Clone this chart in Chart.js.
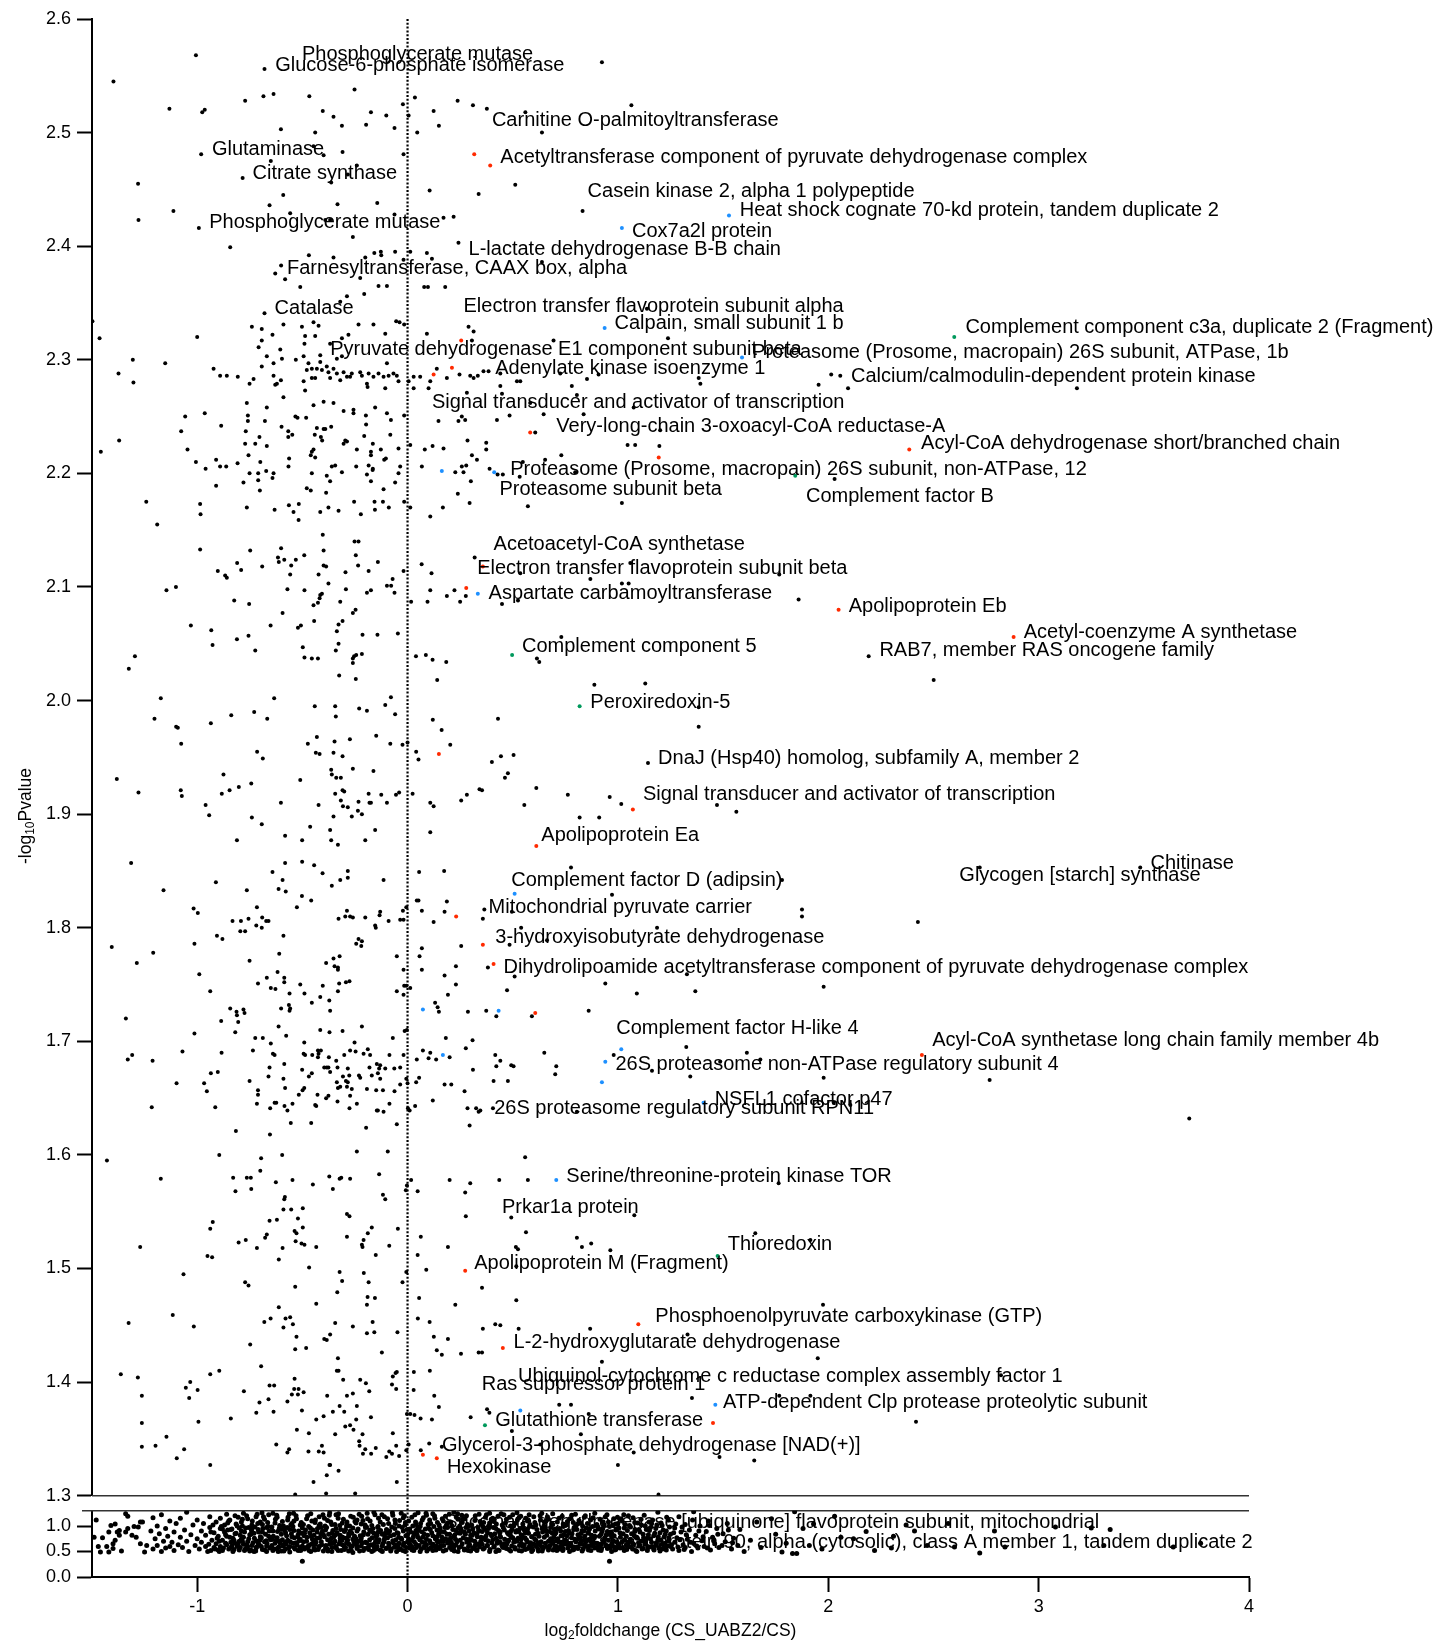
<!DOCTYPE html>
<html>
<head>
<meta charset="utf-8">
<title>Volcano plot CS_UABZ2 / CS</title>
<script src="https://cdn.jsdelivr.net/npm/chart.js@4.4.1/dist/chart.umd.min.js"></script>
<style>
  html, body { margin: 0; padding: 0; background: #fff; }
  #wrap { width: 1440px; height: 1641px; }
</style>
</head>
<body>
<div id="wrap"><canvas id="volcano" width="1440" height="1641"></canvas></div>
<script>
// ---- data: [log2 fold change, -log10 p] ----
// upper panel (1.3 - 2.6), unmarked proteins
const blackUpper = [
  [-1.006,2.568],[-1.398,2.545],[-0.680,2.556],[-0.252,2.538],[-1.132,2.521],[-0.976,2.518],[-0.964,2.520],[-0.772,2.528],[-0.685,2.532],[-0.637,2.534],
  [-0.467,2.532],[-0.403,2.519],[-0.352,2.514],[-0.174,2.518],[-0.101,2.515],[-0.022,2.525],[0.005,2.515],[0.035,2.531],[0.124,2.519],[0.149,2.506],
  [0.238,2.528],[0.311,2.524],[-0.602,2.503],[-0.439,2.500],[-0.312,2.506],[-0.197,2.507],[-0.062,2.504],[0.046,2.500],[-0.981,2.481],[-0.447,2.488],
  [-0.399,2.480],[-0.309,2.483],[-0.019,2.481],[-0.784,2.460],[-0.650,2.475],[-0.363,2.456],[-0.284,2.463],[-0.241,2.471],[0.105,2.449],[0.338,2.446],
  [-1.281,2.455],[-1.113,2.431],[-1.279,2.423],[-0.992,2.416],[-0.591,2.445],[-0.656,2.436],[-0.333,2.437],[-0.144,2.438],[-0.558,2.429],[-0.391,2.423],
  [-0.368,2.423],[-0.062,2.428],[0.171,2.425],[0.219,2.426],[-0.260,2.408],[-0.843,2.399],[0.242,2.403],[-0.469,2.392],[-0.352,2.390],[-0.201,2.390],
  [-0.158,2.394],[-0.127,2.395],[-0.125,2.392],[-0.059,2.395],[0.013,2.395],[0.092,2.394],[0.116,2.389],[-0.019,2.388],[-0.629,2.376],[-0.601,2.383],
  [-0.582,2.371],[-0.510,2.364],[-0.225,2.372],[-0.138,2.365],[-0.098,2.365],[0.079,2.364],[0.097,2.364],[0.179,2.364],[-0.288,2.356],[-0.206,2.358],
  [-0.320,2.351],[-0.680,2.341],[-0.447,2.333],[-0.233,2.331],[-0.162,2.331],[-0.054,2.334],[-0.038,2.333],[-0.016,2.331],[0.092,2.323],[0.290,2.329],
  [0.314,2.325],[-0.740,2.329],[-0.693,2.327],[-0.642,2.322],[-0.590,2.331],[-0.502,2.329],[-0.423,2.330],[-0.487,2.321],[-0.439,2.321],[-0.106,2.323],
  [-0.312,2.319],[-0.281,2.322],[0.306,2.317],[-1.498,2.334],[-1.464,2.319],[-1.000,2.320],[-1.306,2.300],[-1.152,2.297],[-1.374,2.288],[-1.303,2.280],
  [-0.922,2.292],[-0.891,2.286],[-0.859,2.286],[-0.807,2.285],[-0.732,2.283],[-0.751,2.279],[-0.708,2.311],[-0.693,2.317],[-0.669,2.303],[-0.693,2.294],
  [-0.637,2.297],[-0.605,2.309],[-0.597,2.301],[-0.531,2.300],[-0.494,2.303],[-0.490,2.314],[-0.471,2.297],[-0.415,2.298],[-0.415,2.304],[-0.368,2.314],
  [-0.336,2.301],[-0.312,2.303],[-0.479,2.291],[-0.455,2.292],[-0.431,2.292],[-0.407,2.291],[-0.384,2.294],[-0.376,2.289],[-0.352,2.292],[-0.336,2.288],
  [-0.304,2.289],[-0.288,2.285],[-0.265,2.288],[-0.225,2.289],[-0.217,2.286],[-0.185,2.288],[-0.162,2.285],[-0.138,2.288],[-0.114,2.285],[-0.098,2.297],
  [-0.090,2.286],[-0.067,2.288],[-0.051,2.286],[0.029,2.285],[0.060,2.285],[0.139,2.292],[0.187,2.284],[0.247,2.287],[0.298,2.286],[0.314,2.284],
  [0.334,2.286],[-0.637,2.286],[-0.621,2.279],[-0.629,2.278],[-0.602,2.282],[-0.494,2.281],[-0.487,2.273],[-0.455,2.284],[-0.439,2.284],[-0.368,2.284],
  [-0.320,2.282],[-0.273,2.285],[-0.193,2.279],[-0.190,2.276],[-0.106,2.275],[-0.043,2.281],[0.005,2.281],[0.029,2.275],[0.100,2.275],[0.108,2.281],
  [-0.590,2.267],[-0.764,2.262],[-0.669,2.258],[-0.447,2.260],[-0.399,2.263],[-0.352,2.262],[-0.257,2.256],[-0.154,2.258],[0.282,2.271],
  [0.924,2.562],[0.377,2.521],[0.560,2.518],[1.064,2.524],[0.639,2.500],[0.512,2.454],[0.832,2.431],[0.639,2.386],[1.138,2.345],[0.694,2.317],
  [1.238,2.319],[0.361,2.290],[0.385,2.290],[0.441,2.288],[0.520,2.281],[0.536,2.281],[0.726,2.288],[0.853,2.283],[0.908,2.287],[1.384,2.284],
  [1.392,2.279],[0.441,2.277],[0.781,2.277],[2.014,2.287],[2.057,2.286],[1.954,2.278],[2.094,2.275],[0.449,2.270],[0.805,2.269],[0.583,2.262],
  [1.075,2.258],[3.182,2.275],
  [-1.458,2.219],[-1.371,2.229],[-1.057,2.250],[-0.964,2.253],[-1.076,2.237],[-1.046,2.221],[-0.886,2.242],[-0.759,2.251],[-0.759,2.246],[-0.769,2.237],
  [-0.772,2.226],[-0.724,2.226],[-0.704,2.232],[-0.678,2.246],[-0.669,2.224],[-0.756,2.216],[-0.700,2.210],[-0.808,2.209],[-0.910,2.212],[-1.006,2.210],
  [-0.960,2.204],[-0.891,2.206],[-0.862,2.206],[-0.910,2.189],[-0.780,2.192],[-0.751,2.200],[-0.710,2.200],[-0.710,2.194],[-0.672,2.202],[-0.637,2.200],
  [-0.642,2.196],[-0.702,2.185],[-0.764,2.170],[-0.632,2.168],[-0.599,2.241],[-0.567,2.237],[-0.567,2.232],[-0.548,2.234],[-0.563,2.213],[-0.566,2.206],
  [-0.533,2.250],[-0.523,2.249],[-0.482,2.249],[-0.431,2.240],[-0.399,2.239],[-0.391,2.239],[-0.363,2.241],[-0.441,2.234],[-0.412,2.232],[-0.406,2.229],
  [-0.455,2.219],[-0.447,2.221],[-0.439,2.214],[-0.460,2.216],[-0.455,2.200],[-0.479,2.187],[-0.460,2.185],[-0.387,2.183],[-0.384,2.198],[-0.368,2.193],
  [-0.360,2.206],[-0.344,2.207],[-0.312,2.201],[-0.304,2.226],[-0.296,2.229],[-0.288,2.228],[-0.241,2.221],[-0.206,2.233],[-0.197,2.243],[-0.198,2.251],
  [-0.257,2.253],[-0.304,2.255],[-0.165,2.226],[-0.174,2.219],[-0.174,2.216],[-0.127,2.221],[-0.111,2.212],[-0.103,2.213],[-0.185,2.207],[-0.165,2.204],
  [-0.166,2.203],[-0.244,2.206],[-0.193,2.199],[-0.174,2.193],[-0.043,2.222],[-0.035,2.206],[-0.043,2.200],[-0.059,2.192],[-0.082,2.234],[-0.079,2.247],
  [-0.098,2.253],[-0.016,2.251],[-0.114,2.186],[-0.415,2.166],[-0.376,2.170],[-0.328,2.167],[-0.564,2.172],[-0.517,2.173],[-0.542,2.166],[-0.518,2.159],
  [-0.254,2.175],[-0.222,2.164],[-0.157,2.175],[-0.155,2.168],[-0.117,2.175],[-0.089,2.170],[-0.016,2.175],[0.013,2.170],[0.068,2.206],[0.082,2.221],
  [0.119,2.224],[0.171,2.222],[0.108,2.162],[0.168,2.170],[0.147,2.246],[0.242,2.246],[0.285,2.229],[0.306,2.216],[0.330,2.212],[0.258,2.206],
  [0.266,2.201],[0.279,2.207],[0.227,2.201],[0.301,2.193],[0.239,2.182],[0.295,2.174],[0.258,2.250],[0.274,2.247],[0.013,2.225],
  [-1.242,2.175],[-0.986,2.173],[-0.984,2.164],[-1.190,2.155],[-0.986,2.133],[-0.748,2.132],[-0.601,2.134],[-0.616,2.126],[-0.586,2.124],[-0.612,2.122],
  [-0.491,2.128],[-0.531,2.124],[-0.553,2.119],[-0.558,2.111],[-0.403,2.146],[-0.399,2.132],[-0.399,2.119],[-0.387,2.118],[-0.423,2.111],[-0.376,2.103],
  [-0.252,2.140],[-0.233,2.140],[-0.246,2.128],[-0.235,2.119],[-0.295,2.113],[-0.185,2.114],[-0.141,2.122],[-0.019,2.114],[0.067,2.120],[0.114,2.112],
  [0.319,2.126],[-0.902,2.114],[-0.867,2.110],[-0.859,2.108],[-0.810,2.121],[-0.791,2.115],[-0.691,2.118],[-1.146,2.097],[-1.101,2.100],[-0.824,2.088],
  [-0.753,2.085],[-0.571,2.098],[-0.490,2.097],[-0.447,2.084],[-0.415,2.093],[-0.407,2.094],[-0.418,2.090],[-0.426,2.086],[-0.293,2.098],[-0.320,2.087],
  [-0.193,2.095],[-0.174,2.097],[-0.098,2.101],[-0.078,2.101],[-0.062,2.095],[-0.071,2.107],[0.017,2.087],[0.108,2.097],[0.095,2.087],[0.187,2.092],
  [0.223,2.097],[0.250,2.087],[0.277,2.092],
  [-1.030,2.066],[-0.933,2.062],[-0.927,2.049],[-0.756,2.057],[-0.811,2.054],[-0.724,2.044],[-0.651,2.066],[-0.594,2.077],[-0.521,2.064],[-0.507,2.066],
  [-0.498,2.047],[-0.490,2.038],[-0.455,2.037],[-0.426,2.037],[-0.444,2.070],[-0.336,2.061],[-0.328,2.067],[-0.309,2.070],[-0.260,2.077],[-0.247,2.080],
  [-0.214,2.058],[-0.143,2.058],[-0.046,2.059],[-0.341,2.044],[-0.328,2.050],[-0.260,2.037],[-0.260,2.033],[-0.254,2.039],[-0.244,2.040],[-0.217,2.041],
  [-0.325,2.022],[-0.246,2.019],[0.040,2.039],[0.087,2.040],[0.119,2.036],[0.184,2.034],[0.141,2.018],[-1.325,2.028],[-1.296,2.039],
  [-1.173,2.002],[-1.203,1.984],[-1.100,1.977],[-1.092,1.976],[-1.076,1.962],[-0.935,1.980],[-0.838,1.987],[-0.729,1.990],[-0.667,1.984],[-0.634,2.002],
  [-0.441,1.995],[-0.344,1.995],[-0.341,1.986],[-0.230,1.993],[-0.193,1.991],[-0.106,1.996],[-0.079,2.003],[-0.059,1.988],[0.120,1.983],[0.162,1.974],
  [-0.149,1.969],[-0.082,1.962],[-0.024,1.961],[0.000,1.963],[0.041,1.955],[0.052,1.948],[0.203,1.961],[-0.474,1.962],[-0.431,1.968],[-0.436,1.954],
  [-0.418,1.953],[-0.347,1.964],[-0.352,1.954],[-0.309,1.951],[-0.274,1.966],[-0.715,1.955],[-0.688,1.949],[-0.260,1.940],[-0.162,1.938],[-0.363,1.939],
  [-0.360,1.935],[-0.339,1.932],[-0.317,1.932],[-0.510,1.930],[-0.875,1.935],[-1.382,1.931],[-1.279,1.919],[-1.078,1.921],[-1.073,1.916],[-0.883,1.918],
  [-0.846,1.921],[-0.802,1.924],[-0.743,1.927],[-0.960,1.908],[-0.943,1.899],[-0.740,1.897],[-0.602,1.910],[-0.423,1.908],[-0.344,1.918],[-0.309,1.921],
  [-0.301,1.920],[-0.317,1.912],[-0.307,1.907],[-0.284,1.906],[-0.352,1.898],[-0.265,1.898],[-0.236,1.903],[-0.217,1.900],[-0.233,1.911],[-0.185,1.918],
  [-0.181,1.910],[-0.174,1.910],[-0.125,1.917],[-0.098,1.910],[-0.055,1.917],[-0.040,1.919],[0.024,1.918],[0.108,1.910],[0.124,1.907],[0.255,1.912],
  [0.282,1.917],[0.342,1.922],
  [0.425,2.247],[0.485,2.251],[0.647,2.252],[0.837,2.252],[0.607,2.236],[0.374,2.227],[0.374,2.221],[1.046,2.225],[1.082,2.225],[1.197,2.224],
  [1.201,2.238],[0.731,2.216],[0.654,2.212],[0.548,2.210],[0.390,2.204],[0.428,2.199],[0.453,2.199],[0.533,2.197],[0.797,2.201],[2.030,2.195],
  [0.572,2.171],[1.019,2.174],[1.059,2.121],[0.536,2.112],[0.869,2.107],[1.019,2.103],[1.051,2.103],[1.767,2.111],[0.449,2.085],[0.525,2.088],
  [1.859,2.089],[0.731,2.056],[0.615,2.037],[0.626,2.034],[2.192,2.039],[2.501,2.018],[0.888,2.014],[1.130,2.015],[1.384,1.994],[1.384,1.977],
  [0.430,1.984],[0.401,1.946],[0.444,1.951],[0.504,1.952],[0.477,1.936],[0.463,1.932],[1.143,1.945],[0.354,1.921],[0.612,1.923],[0.762,1.917],
  [0.961,1.915],[1.016,1.909],[0.555,1.908],[1.471,1.908],[1.563,1.902],[0.818,1.897],[0.911,1.897],
  [-0.693,1.891],[-0.463,1.889],[-0.368,1.886],[-0.363,1.877],[-0.331,1.873],[-0.154,1.886],[-0.201,1.877],[-0.582,1.881],[-0.501,1.877],[-0.811,1.877],
  [0.108,1.884],[-1.314,1.857],[-1.160,1.833],[-0.911,1.840],[-0.582,1.857],[-0.501,1.858],[-0.444,1.855],[-0.404,1.848],[-0.642,1.849],[-0.594,1.842],
  [-0.613,1.834],[-0.579,1.832],[-0.764,1.833],[-0.360,1.837],[-0.284,1.850],[-0.284,1.844],[-0.320,1.842],[-0.114,1.842],[0.055,1.849],[0.174,1.850],
  [0.044,1.824],[0.052,1.824],[0.187,1.823],[-0.502,1.828],[-0.458,1.824],[-0.526,1.818],[-0.716,1.818],[-1.017,1.817],[-0.997,1.813],[-0.832,1.806],
  [-0.792,1.806],[-0.756,1.808],[-0.719,1.802],[-0.795,1.797],[-0.772,1.797],[-0.691,1.809],[-0.672,1.806],[-0.693,1.800],[-0.661,1.806],[-0.906,1.793],
  [-0.880,1.790],[-1.013,1.786],[-0.590,1.793],[-1.406,1.783],[-1.209,1.778],[-1.287,1.769],[-0.990,1.759],[-0.938,1.744],[-0.751,1.771],[-0.610,1.777],
  [-0.711,1.751],[-0.669,1.756],[-0.650,1.747],[-0.628,1.746],[-0.618,1.761],[-0.586,1.756],[-0.586,1.752],[-0.510,1.750],[-0.490,1.742],[-0.403,1.749],
  [-0.415,1.739],[-0.455,1.734],[-0.561,1.742],[-0.564,1.732],[-0.601,1.729],[-0.558,1.729],[-0.561,1.727],[-0.387,1.769],[-0.352,1.773],[-0.323,1.775],
  [-0.347,1.766],[-0.331,1.765],[-0.331,1.763],[-0.325,1.751],[-0.293,1.752],[-0.276,1.753],[-0.331,1.744],[-0.372,1.736],[-0.368,1.727],[-0.217,1.788],
  [-0.244,1.786],[-0.233,1.790],[-0.220,1.784],[-0.201,1.809],[-0.296,1.810],[-0.260,1.809],[-0.288,1.815],[-0.273,1.810],[-0.328,1.808],[-0.154,1.802],
  [-0.151,1.800],[-0.133,1.811],[-0.130,1.814],[-0.090,1.806],[-0.035,1.807],[-0.019,1.807],[-0.022,1.815],[-0.006,1.818],[-0.051,1.775],[0.057,1.775],
  [0.068,1.782],[0.068,1.815],[0.124,1.805],[0.176,1.814],[0.068,1.763],[-0.019,1.763],[-0.016,1.749],[-0.006,1.749],[0.013,1.747],[-0.051,1.744],
  [-0.019,1.741],[0.176,1.758],[0.230,1.766],[0.230,1.750],[0.255,1.784],[0.192,1.741],[0.131,1.734],[0.143,1.730],[0.149,1.726],[0.287,1.726],
  [-0.843,1.729],[-0.813,1.726],[-0.811,1.723],[-0.805,1.717],[-0.780,1.728],[-0.775,1.725],[-0.886,1.718],[-0.819,1.708],[-1.013,1.707],[-1.339,1.720],
  [-1.330,1.684],[-1.309,1.688],[-1.212,1.683],[-1.216,1.642],[-1.070,1.691],[-1.098,1.663],[-0.967,1.663],[-0.954,1.656],[-0.935,1.672],[-0.902,1.673],
  [-0.884,1.690],[-0.914,1.642],[-0.816,1.621],[-1.429,1.595],[-1.173,1.579],[-0.895,1.600],[-0.829,1.580],[-0.818,1.568],[-0.764,1.580],[-0.745,1.580],
  [-0.743,1.570],[-0.696,1.597],[-0.700,1.586],
  [-0.724,1.703],[-0.688,1.703],[-0.650,1.698],[-0.613,1.713],[-0.577,1.705],[-0.735,1.692],[-0.640,1.689],[-0.632,1.688],[-0.586,1.680],[-0.656,1.677],
  [-0.661,1.669],[-0.751,1.665],[-0.711,1.657],[-0.711,1.653],[-0.716,1.645],[-0.653,1.641],[-0.654,1.618],[-0.632,1.646],[-0.624,1.646],[-0.590,1.667],
  [-0.582,1.659],[-0.585,1.643],[-0.571,1.639],[-0.547,1.645],[-0.555,1.628],[-0.517,1.653],[-0.499,1.657],[-0.491,1.659],[-0.501,1.675],[-0.491,1.699],
  [-0.494,1.689],[-0.487,1.688],[-0.453,1.688],[-0.426,1.692],[-0.423,1.689],[-0.412,1.692],[-0.469,1.669],[-0.455,1.672],[-0.426,1.686],[-0.415,1.710],
  [-0.371,1.708],[-0.309,1.709],[-0.217,1.713],[-0.374,1.686],[-0.376,1.677],[-0.368,1.673],[-0.339,1.683],[-0.333,1.677],[-0.396,1.677],[-0.384,1.677],
  [-0.301,1.688],[-0.284,1.676],[-0.277,1.670],[-0.307,1.669],[-0.293,1.665],[-0.320,1.660],[-0.273,1.692],[-0.252,1.699],[-0.247,1.691],[-0.231,1.670],
  [-0.225,1.668],[-0.209,1.689],[-0.189,1.693],[-0.178,1.688],[-0.170,1.670],[-0.181,1.677],[-0.146,1.680],[-0.135,1.676],[-0.130,1.679],[-0.141,1.672],
  [-0.130,1.667],[-0.106,1.676],[-0.086,1.688],[-0.063,1.676],[-0.070,1.703],[-0.035,1.677],[-0.019,1.688],[-0.014,1.709],[-0.003,1.710],[-0.006,1.667],
  [0.000,1.663],[-0.336,1.664],[-0.331,1.659],[-0.288,1.660],[-0.265,1.658],[-0.284,1.664],[-0.273,1.652],[-0.276,1.641],[-0.241,1.645],[-0.333,1.647],
  [-0.387,1.650],[-0.376,1.652],[-0.439,1.644],[-0.434,1.643],[-0.428,1.653],[-0.193,1.658],[-0.197,1.624],[-0.149,1.657],[-0.117,1.657],[-0.146,1.639],
  [-0.141,1.639],[-0.114,1.638],[-0.086,1.645],[-0.062,1.656],[-0.035,1.662],[-0.051,1.627],[0.002,1.641],[0.010,1.639],[0.036,1.643],[0.041,1.664],
  [0.055,1.668],[0.044,1.684],[0.073,1.692],[0.100,1.685],[0.108,1.690],[0.136,1.684],[0.120,1.648],[0.182,1.703],[0.200,1.686],[0.176,1.662],
  [0.208,1.662],[0.277,1.694],[0.309,1.701],[0.311,1.675],[0.271,1.656],[0.285,1.641],[0.295,1.626],[0.326,1.641],[0.338,1.638],[-0.458,1.628],
  [-0.241,1.603],[-0.094,1.603],[-0.596,1.600],[-0.626,1.576],[-0.547,1.578],[-0.621,1.543],[-0.586,1.561],[-0.583,1.563],[-0.590,1.552],[-0.553,1.552],
  [-0.498,1.553],[-0.521,1.544],[-0.450,1.574],[-0.372,1.581],[-0.355,1.570],[-0.323,1.579],[-0.315,1.580],[-0.273,1.579],[-0.288,1.548],[-0.276,1.546],
  [-0.135,1.583],[-0.117,1.565],[-0.106,1.561],[0.017,1.578],[-0.003,1.573],[-0.008,1.569],[0.048,1.568],[0.200,1.578],[0.298,1.575],[0.274,1.567],
  [0.277,1.546],[-0.656,1.542],[-0.926,1.541],[-0.938,1.535],[-0.170,1.536],[-0.046,1.535],[-0.498,1.536],
  [0.777,1.853],[1.780,1.842],[0.972,1.829],[0.365,1.816],[0.358,1.808],[0.496,1.814],[1.875,1.816],[1.875,1.810],[2.426,1.805],[0.540,1.800],
  [0.485,1.785],[0.663,1.789],[1.186,1.800],[0.382,1.765],[0.509,1.757],[0.473,1.745],[0.940,1.751],[1.090,1.742],[1.368,1.744],[1.328,1.759],
  [1.978,1.748],[0.374,1.727],[0.422,1.722],[0.591,1.722],[0.861,1.727],[1.325,1.695],[0.417,1.688],[0.441,1.683],[0.422,1.678],[0.493,1.679],
  [0.504,1.678],[0.650,1.690],[0.707,1.678],[0.702,1.671],[0.980,1.688],[1.162,1.674],[1.344,1.669],[1.486,1.682],[1.613,1.690],[1.677,1.684],
  [1.978,1.668],[0.409,1.665],[0.477,1.665],[0.346,1.639],[0.406,1.641],[0.805,1.638],[2.026,1.646],[2.105,1.644],[0.559,1.598],[0.436,1.578],
  [0.572,1.578],[1.764,1.575],[0.493,1.545],[1.078,1.547],[3.483,1.853],[2.720,1.853],[2.767,1.666],[3.716,1.632],
  [-1.271,1.519],[-0.803,1.523],[-0.769,1.525],[-0.716,1.518],[-0.677,1.527],[-0.669,1.530],[-0.951,1.511],[-0.929,1.510],[-0.594,1.518],[-0.612,1.508],
  [-0.537,1.533],[-0.528,1.531],[-0.532,1.524],[-0.504,1.522],[-0.490,1.521],[-0.434,1.519],[-0.288,1.528],[-0.189,1.531],[-0.209,1.525],[-0.217,1.521],
  [-0.214,1.519],[-0.151,1.512],[-0.087,1.520],[0.063,1.528],[0.192,1.519],[-1.065,1.495],[-1.116,1.459],[-1.016,1.449],[-1.326,1.452],[-0.772,1.488],
  [-0.756,1.485],[-0.612,1.466],[-0.651,1.456],[-0.681,1.453],[-0.534,1.484],[-0.468,1.501],[-0.434,1.469],[-0.323,1.497],[-0.311,1.489],[-0.334,1.479],
  [-0.208,1.496],[-0.185,1.488],[-0.190,1.475],[-0.155,1.474],[-0.193,1.468],[-0.024,1.488],[-0.006,1.497],[0.048,1.512],[0.089,1.499],[0.055,1.474],
  [0.049,1.456],[0.105,1.453],[0.227,1.468],[0.125,1.440],[0.139,1.428],[0.163,1.424],[0.192,1.438],[0.254,1.425],[0.338,1.426],[-0.580,1.456],
  [-0.590,1.448],[-0.545,1.451],[-0.558,1.457],[-0.528,1.440],[-0.534,1.429],[-0.482,1.430],[-0.344,1.452],[-0.260,1.449],[-0.166,1.453],[-0.158,1.444],
  [-0.193,1.443],[-0.048,1.444],[-0.396,1.438],[-0.384,1.437],[-0.368,1.442],[-0.748,1.433],[-0.696,1.414],[-0.122,1.426],[-0.331,1.421],[-0.336,1.410],
  [-0.328,1.410],[-0.306,1.402],[-0.225,1.402],[-0.198,1.399],[-0.182,1.392],[-0.174,1.369],[-0.070,1.405],[-0.057,1.408],[-0.051,1.409],[-0.074,1.398],
  [-0.054,1.394],[0.030,1.409],[0.029,1.393],[0.106,1.410],[0.127,1.388],[0.149,1.378],[0.062,1.368],[0.116,1.367],[-0.003,1.372],[0.013,1.372],
  [0.033,1.371],[0.300,1.369],[-1.363,1.407],[-1.282,1.404],[-1.263,1.388],[-1.263,1.364],[-1.263,1.343],[-1.198,1.344],[-1.146,1.352],[-1.097,1.333],
  [-1.062,1.341],[-1.054,1.395],[-1.033,1.400],[-1.038,1.386],[-0.998,1.393],[-0.994,1.365],[-0.938,1.407],[-0.895,1.410],[-0.938,1.327],[-0.840,1.368],
  [-0.778,1.392],[-0.719,1.373],[-0.704,1.382],[-0.656,1.397],[-0.634,1.397],[-0.661,1.385],[-0.637,1.374],[-0.624,1.345],[-0.571,1.338],[-0.563,1.341],
  [-0.571,1.383],[-0.550,1.389],[-0.539,1.394],[-0.537,1.403],[-0.518,1.394],[-0.521,1.389],[-0.494,1.391],[-0.502,1.375],[-0.526,1.358],[-0.469,1.355],
  [-0.471,1.339],[-0.434,1.367],[-0.422,1.339],[-0.407,1.344],[-0.399,1.370],[-0.399,1.338],[-0.382,1.388],[-0.368,1.327],[-0.355,1.374],[-0.344,1.354],
  [-0.323,1.379],[-0.301,1.374],[-0.288,1.388],[-0.260,1.390],[-0.296,1.361],[-0.273,1.362],[-0.257,1.358],[-0.241,1.379],[-0.244,1.367],[-0.230,1.348],
  [-0.228,1.344],[-0.214,1.354],[-0.212,1.337],[-0.201,1.341],[-0.173,1.337],[-0.151,1.342],[-0.101,1.334],[-0.087,1.339],[-0.074,1.337],[-0.070,1.355],
  [-0.054,1.344],[-0.040,1.335],[-0.006,1.340],[0.005,1.345],[0.063,1.340],[0.103,1.346],[-0.447,1.312],[-0.384,1.318],[-0.371,1.327],[-0.328,1.322],
  [-0.051,1.312],[-0.534,1.301],[-0.387,1.302],[-0.249,1.302],[0.163,1.343],
  [0.563,1.532],[0.805,1.527],[0.829,1.519],[0.873,1.522],[0.964,1.516],[0.515,1.519],[0.525,1.517],[1.653,1.531],[1.915,1.525],[0.517,1.502],
  [0.354,1.483],[0.517,1.472],[1.975,1.468],[0.358,1.447],[0.417,1.451],[0.441,1.450],[0.528,1.447],[0.868,1.447],[1.331,1.442],[0.354,1.426],
  [0.924,1.418],[1.950,1.421],[1.352,1.386],[1.767,1.388],[1.915,1.388],[0.378,1.376],[0.389,1.373],[0.721,1.380],[0.777,1.380],[0.861,1.372],
  [2.417,1.365],[0.496,1.357],[0.824,1.354],[0.631,1.345],[1.075,1.338],[1.483,1.334],[1.648,1.331],[1.000,1.327],[1.193,1.301],[2.821,1.406]
];

// highlighted proteins (upper panel)
const redPts = [
  [0.317,2.481],[0.393,2.471],[0.255,2.317],[0.124,2.287],[0.211,2.293],[0.583,2.236],[1.194,2.214],[2.385,2.221],[0.358,2.118],[0.279,2.099],
  [2.049,2.080],[2.881,2.056],[0.149,1.953],[1.071,1.904],[0.612,1.872],[0.231,1.810],[0.358,1.785],[0.409,1.768],[0.607,1.725],[2.445,1.688],
  [0.274,1.498],[1.097,1.451],[0.453,1.430],[1.452,1.364],[0.073,1.336],[0.139,1.333]
];
const bluePts = [
  [1.528,2.427],[1.019,2.416],[0.937,2.328],[1.590,2.302],[0.163,2.202],[0.412,2.201],[0.334,2.094],[0.509,1.830],[0.073,1.728],[0.168,1.688],
  [0.433,1.727],[1.016,1.693],[0.940,1.682],[0.924,1.664],[1.407,1.646],[0.707,1.578],[1.463,1.380],[0.536,1.375]
];
const greenPts = [
  [2.599,2.320],[1.843,2.198],[0.497,2.040],[0.818,1.995],[1.474,1.511],[0.368,1.362]
];

// lower panel (0 - 1.3): wings and sparse tails
const blackLower = [
  [-1.49,0.78],[-1.48,1.12],[-1.47,0.60],[-1.46,0.49],[-1.45,0.77],[-1.43,0.60],[-1.42,0.88],[-1.42,0.49],[-1.41,1.01],[-1.40,0.65],
  [-1.40,0.56],[-1.39,0.72],[-1.39,1.04],[-1.38,0.88],[-1.37,0.82],[-1.37,0.91],[-1.36,0.51],[-1.34,1.24],[-1.33,1.19],[-1.34,0.88],
  [-1.33,0.95],[-1.31,0.82],[-1.30,0.99],[-1.29,0.78],[-1.28,0.98],[-1.27,1.08],[-1.26,1.08],[-1.27,0.65],[-1.25,0.49],[-1.24,0.62],
  [-1.22,0.90],[-1.21,1.16],[-1.21,0.55],[-1.20,0.75],
  [-1.19,1.00],[-1.19,0.62],[-1.18,0.85],[-1.17,0.50],[-1.17,1.22],[-1.16,0.70],[-1.15,0.95],[-1.15,0.57],[-1.14,0.80],[-1.13,1.10],
  [-1.13,0.60],[-1.12,0.68],[-1.11,0.88],[-1.11,0.52],[-1.10,1.05],[-1.09,0.63],[-1.08,0.78],[-1.08,1.15],[-1.07,0.58],[-1.06,0.92],
  [-1.05,0.70],[-1.05,1.27],[-1.04,0.50],[-1.03,0.83],[-1.02,1.02],[-1.01,0.62],[-1.00,0.75],[-1.00,1.12],[-0.99,0.55],[-0.98,0.90],
  [-0.98,0.68],[-0.97,1.05],[-0.96,0.60],[-0.96,0.82],[-0.95,0.50],[-0.94,0.97],[-0.94,1.18],[-0.93,0.72],[-0.92,0.58],[-0.92,0.87],
  [-0.91,1.08],[-0.91,0.65],[-0.90,0.53],[-0.90,0.80],[-0.89,0.95],
  [-0.89,0.60],[-0.89,1.15],[-0.88,0.72],[-0.88,0.52],[-0.87,0.88],[-0.87,1.02],[-0.86,0.63],[-0.86,0.80],[-0.85,0.55],[-0.85,1.10],
  [-0.84,0.93],[-0.84,0.68],[-0.83,0.50],[-0.83,0.76],[-0.82,1.20],[-0.82,0.85],[-0.81,0.60],[-0.81,1.00],[-0.80,0.70],[-0.80,0.53],
  [-0.79,0.90],[-0.79,1.08],[-0.78,0.64],[-0.78,0.78],[-0.77,0.56],[-0.77,0.96],[-0.76,1.14],[-0.76,0.69],[-0.75,0.83],[-0.75,0.51],
  [-0.86,1.23],[-0.84,0.58],[-0.80,0.96],[-0.78,1.25],[-0.82,0.66],[-0.88,0.94],[-0.76,0.60],[-0.79,0.74],
  [-0.945,0.64],[-0.935,0.88],[-0.925,1.02],[-0.915,0.55],[-0.905,0.76],[-0.935,0.52],
  [-0.895,0.70],[-0.885,0.99],[-0.875,0.57],[-0.865,0.83],[-0.855,1.06],[-0.895,0.50],[-0.865,0.66],[-0.855,0.92],
  [-0.845,0.78],[-0.845,1.12],[-0.835,0.61],[-0.835,0.94],[-0.825,0.54],[-0.825,0.72],[-0.815,1.04],[-0.815,0.86],[-0.805,0.65],[-0.805,1.17],
  [-0.795,0.58],[-0.795,0.82],[-0.785,1.00],[-0.785,0.70],[-0.775,0.52],[-0.775,0.88],[-0.765,1.20],[-0.765,0.63],[-0.755,0.75],[-0.755,0.97],
  [-0.785,1.13],[-0.765,0.55],
  [1.26,0.55],[1.27,0.96],[1.27,0.68],[1.28,0.77],[1.29,1.18],[1.29,0.52],[1.30,0.88],[1.31,0.63],[1.32,1.03],[1.32,0.58],
  [1.33,0.74],[1.34,0.92],[1.35,0.50],[1.36,1.28],[1.36,0.66],[1.37,0.82],[1.38,0.57],[1.39,1.00],[1.40,0.71],[1.41,0.60],
  [1.42,0.89],[1.43,1.10],[1.44,0.53],[1.45,0.78],[1.46,0.65],[1.47,0.95],[1.48,0.58],[1.50,0.85],[1.51,0.69],[1.52,1.05],
  [1.54,0.55],[1.55,0.76],[1.57,0.62],[1.58,0.93],[1.60,0.50],
  [1.255,0.63],[1.265,0.87],[1.275,1.04],[1.285,0.59],[1.295,0.73],[1.305,0.98],[1.315,0.54],[1.325,0.83],[1.345,0.68],[1.355,1.12],
  [1.375,0.61],[1.385,0.90],[1.405,0.79],[1.425,0.57],[1.435,1.01],[1.455,0.71],[1.475,0.84],[1.495,0.62],[1.525,0.92],[1.545,0.67],
  [1.63,0.72],[1.66,1.08],[1.68,0.58],[1.73,1.14],[1.75,0.84],[1.78,0.49],[1.80,0.66],[1.83,0.46],[1.84,1.28],[1.85,0.46],
  [1.88,0.95],[1.91,0.62],[1.93,1.04],[1.97,0.55],[2.03,1.19],[2.06,0.78],[2.12,0.75],[2.18,0.89],[2.22,0.52],[2.30,0.57],
  [2.31,0.80],[2.37,1.02],[2.41,0.90],[2.47,0.62],[2.57,1.05],[2.60,0.59],
  [2.72,0.47],[2.79,0.90],[2.84,0.59],[3.08,0.98],[3.25,0.96],[3.31,0.62],[3.34,0.93],[3.64,0.59],[3.77,0.66]
];

// lower panel: the dense core between about -0.75 and 1.25
const blackLowerCore = [
  [-0.74,0.62],[-0.74,1.02],[-0.73,0.50],[-0.73,0.86],[-0.72,0.71],[-0.72,1.18],[-0.72,0.57],[-0.71,0.93],[-0.71,0.66],[-0.70,1.08],[-0.70,0.79],[-0.74,0.95],
  [-0.69,0.54],[-0.69,0.88],[-0.68,0.69],[-0.68,1.13],[-0.67,0.61],[-0.67,0.97],[-0.67,0.50],[-0.66,0.80],[-0.66,1.22],[-0.65,0.73],[-0.65,0.58],[-0.69,1.03],
  [-0.64,0.90],[-0.64,0.52],[-0.63,1.06],[-0.63,0.66],[-0.62,0.77],[-0.62,1.17],[-0.62,0.56],[-0.61,0.95],[-0.61,0.70],[-0.60,0.84],[-0.60,0.51],[-0.64,1.25],
  [-0.59,0.63],[-0.59,1.00],[-0.58,0.55],[-0.58,0.87],[-0.57,1.12],[-0.57,0.72],[-0.56,0.60],[-0.56,0.93],[-0.56,0.49],[-0.55,0.79],[-0.55,1.05],[-0.58,0.68],
  [-0.54,0.58],[-0.54,0.91],[-0.53,1.20],[-0.53,0.67],[-0.52,0.52],[-0.52,0.83],[-0.51,1.02],[-0.51,0.74],[-0.50,0.61],[-0.50,0.31],[-0.50,0.96],[-0.54,1.10],
  [-0.49,0.55],[-0.49,0.86],[-0.48,1.14],[-0.48,0.70],[-0.47,0.62],[-0.47,0.99],[-0.46,0.50],[-0.46,0.80],[-0.46,1.24],[-0.45,0.66],[-0.45,0.92],[-0.48,0.58],
  [-0.44,1.07],[-0.44,0.53],[-0.43,0.76],[-0.43,0.88],[-0.42,0.60],[-0.42,1.18],[-0.41,0.69],[-0.41,0.97],[-0.40,0.51],[-0.40,0.83],[-0.44,0.64],[-0.42,1.01],
  [-0.39,0.57],[-0.39,0.92],[-0.38,1.11],[-0.38,0.73],[-0.37,0.64],[-0.37,1.26],[-0.36,0.50],[-0.36,0.86],[-0.36,1.03],[-0.35,0.68],[-0.35,0.79],[-0.38,0.55],
  [-0.34,0.95],[-0.34,0.60],[-0.33,1.15],[-0.33,0.52],[-0.32,0.82],[-0.32,0.71],[-0.31,1.06],[-0.31,0.63],[-0.30,0.89],[-0.30,0.54],[-0.34,1.22],[-0.32,0.76],
  [-0.29,0.67],[-0.29,1.00],[-0.28,0.51],[-0.28,0.85],[-0.27,1.19],[-0.27,0.59],[-0.26,0.74],[-0.26,0.96],[-0.26,0.48],[-0.25,1.09],[-0.25,0.65],[-0.28,0.80],
  [-0.24,0.56],[-0.24,0.90],[-0.23,1.23],[-0.23,0.70],[-0.22,0.61],[-0.22,1.04],[-0.21,0.52],[-0.21,0.83],[-0.20,0.97],[-0.20,0.68],[-0.24,1.12],[-0.22,0.77],
  [-0.19,0.58],[-0.19,1.14],[-0.18,0.73],[-0.18,0.92],[-0.17,0.50],[-0.17,1.01],[-0.16,0.64],[-0.16,0.86],[-0.16,1.27],[-0.15,0.55],[-0.15,0.79],[-0.18,0.62],
  [-0.14,0.99],[-0.14,0.68],[-0.13,0.53],[-0.13,1.08],[-0.12,0.84],[-0.12,0.61],[-0.11,1.18],[-0.11,0.74],[-0.10,0.57],[-0.10,0.93],[-0.14,0.88],[-0.12,0.50],
  [-0.09,0.66],[-0.09,1.05],[-0.08,0.51],[-0.08,0.81],[-0.07,1.21],[-0.07,0.71],[-0.06,0.59],[-0.06,0.95],[-0.06,1.12],[-0.05,0.63],[-0.05,0.87],[-0.08,0.55],
  [-0.04,1.00],[-0.04,0.54],[-0.03,0.76],[-0.03,1.25],[-0.02,0.62],[-0.02,0.90],[-0.01,0.50],[-0.01,1.07],[0.00,0.69],[0.00,0.83],[-0.04,0.66],[-0.02,1.16],
  [0.01,0.57],[0.01,0.94],[0.02,1.17],[0.02,0.72],[0.03,0.52],[0.03,0.86],[0.04,1.03],[0.04,0.64],[0.05,0.78],[0.05,1.26],[0.02,0.60],[0.04,0.91],
  [0.06,0.50],[0.06,0.99],[0.07,0.68],[0.07,1.12],[0.08,0.58],[0.08,0.84],[0.09,1.21],[0.09,0.74],[0.10,0.55],[0.10,0.96],[0.07,0.88],[0.09,0.63],
  [0.11,1.05],[0.11,0.66],[0.12,0.52],[0.12,0.81],[0.13,1.15],[0.13,0.60],[0.14,0.92],[0.14,0.71],[0.15,1.02],[0.15,0.56],[0.12,1.24],[0.14,0.79],
  [0.16,0.62],[0.16,0.89],[0.17,1.10],[0.17,0.51],[0.18,0.75],[0.18,1.19],[0.19,0.67],[0.19,0.97],[0.20,0.58],[0.20,0.84],[0.17,0.70],[0.19,1.06],
  [0.21,0.54],[0.21,1.01],[0.22,0.80],[0.22,1.27],[0.23,0.63],[0.23,0.91],[0.24,0.50],[0.24,1.13],[0.25,0.72],[0.25,0.86],[0.22,0.59],[0.24,0.96],
  [0.26,0.65],[0.26,1.07],[0.27,0.53],[0.27,0.88],[0.28,1.20],[0.28,0.74],[0.29,0.60],[0.29,0.99],[0.30,0.82],[0.30,0.51],[0.27,1.14],[0.29,0.69],
  [0.31,0.94],[0.31,0.57],[0.32,1.11],[0.32,0.70],[0.33,0.52],[0.33,0.85],[0.34,1.23],[0.34,0.64],[0.35,0.78],[0.35,1.03],[0.32,0.61],[0.34,0.90],
  [0.36,0.55],[0.36,0.98],[0.37,0.73],[0.37,1.17],[0.38,0.62],[0.38,0.87],[0.39,1.06],[0.39,0.50],[0.40,0.81],[0.40,0.67],[0.37,0.93],[0.39,1.25],
  [0.41,0.59],[0.41,1.09],[0.42,0.76],[0.42,0.95],[0.43,0.53],[0.43,1.19],[0.44,0.68],[0.44,0.88],[0.45,1.02],[0.45,0.61],[0.42,0.50],[0.44,0.80],
  [0.46,0.92],[0.46,0.65],[0.47,1.13],[0.47,0.56],[0.48,0.84],[0.48,0.72],[0.49,1.00],[0.49,0.51],[0.50,1.22],[0.50,0.77],[0.47,0.63],[0.49,0.89],
  [0.51,0.58],[0.51,1.05],[0.52,0.70],[0.52,0.91],[0.53,0.52],[0.53,1.16],[0.54,0.66],[0.54,0.83],[0.55,0.97],[0.55,0.60],[0.52,1.26],[0.54,0.74],
  [0.56,0.54],[0.56,0.87],[0.57,1.10],[0.57,0.69],[0.58,0.61],[0.58,0.99],[0.59,0.50],[0.59,0.79],[0.60,1.18],[0.60,0.64],[0.57,0.93],[0.59,0.57],
  [0.61,1.02],[0.61,0.72],[0.62,0.55],[0.62,0.86],[0.63,1.20],[0.63,0.63],[0.64,0.95],[0.64,0.51],[0.65,0.78],[0.65,1.08],[0.62,0.67],[0.64,0.59],
  [0.66,0.60],[0.66,0.90],[0.67,1.13],[0.67,0.53],[0.68,0.75],[0.68,0.97],[0.69,0.66],[0.69,1.24],[0.70,0.57],[0.70,0.84],[0.67,0.70],[0.69,1.03],
  [0.71,0.52],[0.71,0.94],[0.72,0.68],[0.72,1.15],[0.73,0.61],[0.73,0.81],[0.74,1.04],[0.74,0.55],[0.75,0.73],[0.75,0.89],[0.72,0.58],[0.74,0.99],
  [0.76,0.65],[0.76,1.09],[0.77,0.50],[0.77,0.86],[0.78,0.77],[0.78,1.21],[0.79,0.59],[0.79,0.93],[0.80,0.69],[0.80,1.00],[0.77,0.62],[0.79,0.54],
  [0.81,0.83],[0.81,0.56],[0.82,1.06],[0.82,0.66],[0.83,0.51],[0.83,0.91],[0.84,1.17],[0.84,0.72],[0.85,0.60],[0.85,0.96],[0.82,0.78],[0.84,0.63],
  [0.86,0.53],[0.86,0.88],[0.87,1.12],[0.87,0.70],[0.88,0.62],[0.88,0.99],[0.89,0.57],[0.89,0.80],[0.90,1.03],[0.90,0.66],[0.87,0.75],[0.89,1.25],
  [0.91,0.60],[0.91,0.94],[0.92,0.52],[0.92,0.84],[0.93,1.08],[0.93,0.68],[0.94,0.74],[0.94,1.18],[0.95,0.56],[0.95,0.89],[0.92,0.64],[0.96,0.31],
  [0.96,0.99],[0.96,0.61],[0.97,0.50],[0.97,0.79],[0.98,1.14],[0.98,0.70],[0.99,0.58],[0.99,0.92],[1.00,1.05],[1.00,0.65],[0.97,0.86],[0.99,0.54],
  [1.01,0.57],[1.01,0.87],[1.02,1.10],[1.02,0.69],[1.03,0.52],[1.03,0.96],[1.04,0.63],[1.04,0.80],[1.05,1.20],[1.05,0.60],
  [1.06,0.74],[1.06,0.98],[1.07,0.55],[1.07,0.66],[1.08,0.89],[1.08,1.07],[1.09,0.50],[1.09,0.78],[1.10,0.61],[1.10,0.93],
  [1.11,1.13],[1.11,0.70],[1.12,0.56],[1.12,0.84],[1.13,0.64],[1.13,1.00],[1.14,0.52],[1.14,0.76],[1.15,0.91],[1.15,0.59],
  [1.16,0.68],[1.16,1.05],[1.17,0.55],[1.17,0.81],[1.18,0.62],[1.18,0.95],[1.19,1.27],[1.19,0.73],[1.20,0.51],[1.20,0.87],
  [1.21,0.64],[1.21,1.01],[1.22,0.58],[1.22,0.79],[1.23,0.90],[1.23,0.53],[1.24,1.12],[1.24,0.70],[1.25,0.60],[1.25,0.84],
  [-0.745,0.53],[-0.745,0.84],[-0.738,1.10],[-0.735,0.67],[-0.728,0.76],[-0.725,0.98],[-0.718,0.59],[-0.715,1.23],[-0.708,0.88],[-0.705,0.63],[-0.702,0.72],[-0.742,0.91],[-0.722,0.51],[-0.712,1.05],
  [-0.695,0.77],[-0.695,0.60],[-0.688,0.95],[-0.685,1.18],[-0.678,0.53],[-0.675,0.84],[-0.668,0.66],[-0.665,1.07],[-0.658,0.90],[-0.655,0.57],[-0.652,0.75],[-0.692,1.26],[-0.672,0.71],[-0.662,0.99],
  [-0.645,0.62],[-0.645,0.98],[-0.638,0.80],[-0.635,0.55],[-0.628,1.13],[-0.625,0.71],[-0.618,0.89],[-0.615,0.50],[-0.608,1.01],[-0.605,0.66],[-0.602,0.93],[-0.642,0.74],[-0.622,1.21],[-0.612,0.59],
  [-0.595,0.73],[-0.595,1.09],[-0.588,0.51],[-0.585,0.92],[-0.578,0.64],[-0.575,0.81],[-0.568,1.17],[-0.565,0.57],[-0.558,0.69],[-0.555,1.02],[-0.552,0.85],[-0.592,0.61],[-0.572,0.97],[-0.562,1.24],
  [-0.545,0.66],[-0.545,0.99],[-0.538,0.77],[-0.535,0.55],[-0.528,1.14],[-0.525,0.63],[-0.518,0.90],[-0.515,0.71],[-0.508,0.52],[-0.505,1.07],[-0.502,0.86],[-0.542,1.25],[-0.522,0.79],[-0.512,0.58],
  [-0.495,0.69],[-0.495,1.03],[-0.488,0.57],[-0.485,0.92],[-0.478,0.78],[-0.475,1.20],[-0.468,0.52],[-0.465,0.87],[-0.458,0.64],[-0.455,1.10],[-0.452,0.74],[-0.492,0.81],[-0.472,0.60],[-0.462,0.96],
  [-0.445,0.57],[-0.445,0.82],[-0.438,1.12],[-0.435,0.68],[-0.428,0.95],[-0.425,0.54],[-0.418,0.77],[-0.415,1.04],[-0.408,0.63],[-0.405,0.89],[-0.402,1.22],[-0.442,0.72],[-0.422,0.59],[-0.412,0.84],
  [-0.395,0.79],[-0.395,1.15],[-0.388,0.62],[-0.385,0.97],[-0.378,0.51],[-0.375,0.84],[-0.368,0.70],[-0.365,1.08],[-0.358,0.58],[-0.355,0.91],[-0.352,0.66],[-0.392,1.00],[-0.372,1.21],[-0.362,0.76],
  [-0.345,0.70],[-0.345,1.03],[-0.338,0.56],[-0.335,0.87],[-0.328,1.24],[-0.325,0.65],[-0.318,0.93],[-0.315,0.52],[-0.308,0.78],[-0.305,1.13],[-0.302,0.61],[-0.342,0.83],[-0.322,1.01],[-0.312,0.72],
  [-0.295,0.58],[-0.295,0.93],[-0.288,1.08],[-0.285,0.72],[-0.278,0.64],[-0.275,1.00],[-0.268,0.53],[-0.265,0.86],[-0.258,1.17],[-0.255,0.69],[-0.252,0.80],[-0.292,0.76],[-0.272,0.90],[-0.262,0.61],
  [-0.245,0.75],[-0.245,1.06],[-0.238,0.60],[-0.235,0.94],[-0.228,0.51],[-0.225,0.81],[-0.218,1.19],[-0.215,0.67],[-0.208,0.88],[-0.205,0.56],[-0.202,1.02],[-0.242,0.66],[-0.222,0.73],[-0.212,1.11],
  [-0.195,0.67],[-0.195,0.98],[-0.188,0.84],[-0.185,0.54],[-0.178,1.10],[-0.175,0.63],[-0.168,0.77],[-0.165,0.95],[-0.158,0.59],[-0.155,1.22],[-0.152,0.70],[-0.192,1.25],[-0.172,0.89],[-0.162,0.52],
  [-0.145,0.60],[-0.145,0.82],[-0.138,1.15],[-0.135,0.73],[-0.128,0.91],[-0.125,0.52],[-0.118,0.65],[-0.115,1.03],[-0.108,0.79],[-0.105,0.87],[-0.102,0.56],[-0.142,0.97],[-0.122,1.22],[-0.112,0.69],
  [-0.095,0.77],[-0.095,1.14],[-0.088,0.61],[-0.085,0.90],[-0.078,0.54],[-0.075,0.98],[-0.068,0.67],[-0.065,0.83],[-0.058,1.05],[-0.055,0.73],[-0.052,0.50],[-0.092,0.86],[-0.072,1.26],[-0.062,0.59],
  [-0.045,0.61],[-0.045,0.86],[-0.038,1.11],[-0.035,0.55],[-0.028,0.74],[-0.025,0.97],[-0.018,0.66],[-0.015,1.20],[-0.008,0.81],[-0.005,0.58],[-0.002,0.93],[-0.042,0.78],[-0.022,0.52],[-0.012,1.02],
  [0.005,0.75],[0.005,1.10],[0.012,0.63],[0.015,0.88],[0.022,0.53],[0.025,1.00],[0.032,0.69],[0.035,1.22],[0.042,0.58],[0.045,0.84],[0.048,0.96],[0.008,0.66],[0.028,0.79],[0.038,1.08],
  [0.055,0.62],[0.055,0.91],[0.062,1.05],[0.065,0.55],[0.072,0.78],[0.075,1.16],[0.082,0.67],[0.085,0.94],[0.092,0.51],[0.095,0.82],[0.098,1.03],[0.058,0.73],[0.078,0.59],[0.088,1.25],
  [0.105,0.71],[0.105,1.12],[0.112,0.58],[0.115,0.87],[0.122,0.64],[0.125,0.99],[0.132,0.75],[0.135,0.53],[0.142,1.07],[0.145,0.68],[0.148,0.85],[0.108,0.93],[0.128,1.20],[0.138,0.61],
  [0.155,0.57],[0.155,0.96],[0.162,0.79],[0.165,1.14],[0.172,0.62],[0.175,0.88],[0.182,0.53],[0.185,1.02],[0.192,0.73],[0.195,0.66],[0.198,1.23],[0.158,0.70],[0.178,0.97],[0.188,0.84],
  [0.205,0.76],[0.205,1.08],[0.212,0.63],[0.215,0.93],[0.222,0.51],[0.225,0.83],[0.232,1.17],[0.235,0.69],[0.242,0.87],[0.245,0.58],[0.248,1.00],[0.208,0.68],[0.228,0.74],[0.238,1.24],
  [0.255,0.60],[0.255,0.92],[0.262,1.13],[0.265,0.77],[0.272,0.55],[0.275,0.84],[0.282,0.68],[0.285,1.03],[0.292,0.90],[0.295,0.63],[0.298,0.75],[0.258,1.21],[0.278,0.97],[0.288,0.52],
  [0.305,0.72],[0.305,1.02],[0.312,0.56],[0.315,0.87],[0.322,1.20],[0.325,0.65],[0.332,0.79],[0.335,0.97],[0.342,0.59],[0.345,1.09],[0.348,0.70],[0.308,0.82],[0.328,0.53],[0.338,0.91],
  [0.355,0.64],[0.355,0.89],[0.362,1.07],[0.365,0.57],[0.372,0.80],[0.375,1.22],[0.382,0.71],[0.385,0.95],[0.392,0.54],[0.395,0.84],[0.398,1.13],[0.358,0.76],[0.378,0.62],[0.388,1.01],
  [0.405,0.73],[0.405,1.15],[0.412,0.60],[0.415,0.85],[0.422,1.04],[0.425,0.66],[0.432,0.91],[0.435,0.52],[0.442,0.78],[0.445,1.24],[0.448,0.63],[0.408,0.97],[0.428,0.70],[0.438,0.87],
  [0.455,0.58],[0.455,0.97],[0.462,0.74],[0.465,1.06],[0.472,0.66],[0.475,0.87],[0.482,0.54],[0.485,1.17],[0.492,0.79],[0.495,0.61],[0.498,0.93],[0.458,1.22],[0.478,0.70],[0.488,0.83],
  [0.505,0.68],[0.505,1.01],[0.512,0.55],[0.515,0.88],[0.522,1.12],[0.525,0.76],[0.532,0.62],[0.535,0.95],[0.542,0.51],[0.545,0.81],[0.548,1.04],[0.508,0.72],[0.528,0.89],[0.538,1.19],
  [0.555,0.63],[0.555,0.92],[0.562,1.15],[0.565,0.73],[0.572,0.56],[0.575,0.86],[0.582,1.03],[0.585,0.67],[0.592,0.79],[0.595,0.53],[0.598,0.98],[0.558,0.77],[0.578,1.22],[0.588,0.61],
  [0.605,0.74],[0.605,1.07],[0.612,0.60],[0.615,0.93],[0.622,0.51],[0.625,0.80],[0.632,1.12],[0.635,0.69],[0.642,0.88],[0.645,0.56],[0.648,1.00],[0.608,0.84],[0.628,0.65],[0.638,1.25],
  [0.655,0.66],[0.655,0.96],[0.662,0.82],[0.665,1.18],[0.672,0.58],[0.675,0.89],[0.682,0.71],[0.685,1.04],[0.692,0.53],[0.695,0.78],[0.698,0.93],[0.658,1.10],[0.678,0.62],[0.688,0.86],
  [0.705,0.61],[0.705,0.87],[0.712,1.08],[0.715,0.75],[0.722,0.95],[0.725,0.55],[0.732,0.68],[0.735,1.19],[0.742,0.83],[0.745,0.64],[0.748,1.01],[0.708,0.71],[0.728,0.90],[0.738,0.52],
  [0.755,0.70],[0.755,1.02],[0.762,0.57],[0.765,0.91],[0.772,1.14],[0.775,0.66],[0.782,0.85],[0.785,0.53],[0.792,0.97],[0.795,0.74],[0.798,1.23],[0.758,0.81],[0.778,0.61],[0.788,1.07],
  [0.805,0.59],[0.805,0.93],[0.812,0.75],[0.815,1.11],[0.822,0.64],[0.825,0.86],[0.832,1.00],[0.835,0.55],[0.842,0.80],[0.845,1.20],[0.848,0.69],[0.808,1.04],[0.828,0.71],[0.838,0.90],
  [0.855,0.73],[0.855,1.05],[0.862,0.61],[0.865,0.94],[0.872,0.52],[0.875,0.82],[0.882,1.16],[0.885,0.68],[0.892,0.90],[0.895,0.58],[0.898,1.01],[0.858,0.86],[0.878,0.64],[0.888,0.77],
  [0.905,0.65],[0.905,0.98],[0.912,0.80],[0.915,1.13],[0.922,0.56],[0.925,0.89],[0.932,0.71],[0.935,1.02],[0.942,0.62],[0.945,0.83],[0.948,1.22],[0.908,0.53],[0.928,0.95],[0.938,0.77],
  [0.955,0.72],[0.955,1.08],[0.962,0.57],[0.965,0.88],[0.972,0.66],[0.975,1.01],[0.982,0.81],[0.985,0.53],[0.992,0.94],[0.995,0.69],[0.998,1.17],[0.958,0.84],[0.978,0.60],[0.988,1.04],
  [1.005,0.64],[1.005,0.96],[1.012,0.78],[1.015,1.14],[1.022,0.58],[1.025,0.85],[1.032,0.72],[1.035,1.03],[1.042,0.54],[1.045,0.91],[1.048,0.68],[1.028,1.22],
  [1.055,0.70],[1.055,1.01],[1.062,0.59],[1.065,0.85],[1.072,1.16],[1.075,0.64],[1.082,0.93],[1.085,0.52],[1.092,0.76],[1.095,1.06],[1.098,0.67],[1.078,0.81],
  [1.105,0.62],[1.105,0.88],[1.112,1.02],[1.115,0.55],[1.122,0.77],[1.125,1.21],[1.132,0.69],[1.135,0.93],[1.142,0.58],[1.145,0.83],[1.148,1.08],
  [1.155,0.75],[1.155,0.97],[1.162,0.60],[1.165,1.12],[1.172,0.53],[1.175,0.86],[1.182,0.67],[1.185,1.02],[1.192,0.79],[1.195,0.57],
  [1.205,0.72],[1.205,1.06],[1.212,0.55],[1.215,0.92],[1.222,0.66],[1.225,0.84],[1.232,1.17],[1.235,0.61],[1.242,0.77],[1.245,0.98]
];

// protein names, anchored at the start of the text (data units)
const labelText = [
  'Phosphoglycerate mutase', 'Glucose-6-phosphate isomerase', 'Carnitine O-palmitoyltransferase', 'Glutaminase',
  'Acetyltransferase component of pyruvate dehydrogenase complex', 'Citrate synthase', 'Casein kinase 2, alpha 1 polypeptide',
  'Heat shock cognate 70-kd protein, tandem duplicate 2', 'Phosphoglycerate mutase', 'Cox7a2l protein',
  'L-lactate dehydrogenase B-B chain', 'Farnesyltransferase, CAAX box, alpha', 'Catalase', 'Electron transfer flavoprotein subunit alpha',
  'Calpain, small subunit 1 b', 'Complement component c3a, duplicate 2 (Fragment)', 'Pyruvate dehydrogenase E1 component subunit beta',
  'Proteasome (Prosome, macropain) 26S subunit, ATPase, 1b', 'Adenylate kinase isoenzyme 1', 'Calcium/calmodulin-dependent protein kinase',
  'Signal transducer and activator of transcription', 'Very-long-chain 3-oxoacyl-CoA reductase-A', 'Acyl-CoA dehydrogenase short/branched chain',
  'Proteasome (Prosome, macropain) 26S subunit, non-ATPase, 12', 'Proteasome subunit beta', 'Complement factor B',
  'Acetoacetyl-CoA synthetase', 'Electron transfer flavoprotein subunit beta', 'Aspartate carbamoyltransferase', 'Apolipoprotein Eb',
  'Acetyl-coenzyme A synthetase', 'Complement component 5', 'RAB7, member RAS oncogene family', 'Peroxiredoxin-5',
  'DnaJ (Hsp40) homolog, subfamily A, member 2', 'Signal transducer and activator of transcription', 'Apolipoprotein Ea', 'Chitinase',
  'Glycogen [starch] synthase', 'Complement factor D (adipsin)', 'Mitochondrial pyruvate carrier', '3-hydroxyisobutyrate dehydrogenase',
  'Dihydrolipoamide acetyltransferase component of pyruvate dehydrogenase complex', 'Complement factor H-like 4',
  'Acyl-CoA synthetase long chain family member 4b', '26S proteasome non-ATPase regulatory subunit 4', 'NSFL1 cofactor p47',
  '26S proteasome regulatory subunit RPN11', 'Serine/threonine-protein kinase TOR', 'Prkar1a protein', 'Thioredoxin',
  'Apolipoprotein M (Fragment)', 'Phosphoenolpyruvate carboxykinase (GTP)', 'L-2-hydroxyglutarate dehydrogenase',
  'Ubiquinol-cytochrome c reductase complex assembly factor 1', 'Ras suppressor protein 1', 'ATP-dependent Clp protease proteolytic subunit',
  'Glutathione transferase', 'Glycerol-3-phosphate dehydrogenase [NAD(+)]', 'Hexokinase'
];
const labelX = [
  -0.502, -0.629, 0.401, -0.930, 0.441, -0.737, 0.856, 1.579, -0.943, 1.067,
  0.290, -0.573, -0.632, 0.266, 0.984, 2.652, -0.368, 1.638, 0.417, 2.108,
  0.116, 0.707, 2.441, 0.488, 0.437, 1.894, 0.409, 0.331, 0.385, 2.097,
  2.929, 0.544, 2.243, 0.869, 1.191, 1.119, 0.636, 3.532, 2.623, 0.493,
  0.385, 0.417, 0.456, 0.992, 2.494, 0.988, 1.460, 0.412, 0.755, 0.449,
  1.522, 0.317, 1.178, 0.504, 0.525, 0.353, 1.500, 0.417, 0.164, 0.187
];
const labelY = [
  2.569, 2.559, 2.511, 2.485, 2.478, 2.464, 2.448, 2.431, 2.421, 2.413,
  2.397, 2.380, 2.345, 2.347, 2.332, 2.328, 2.309, 2.306, 2.292, 2.285,
  2.262, 2.241, 2.226, 2.203, 2.186, 2.180, 2.137, 2.116, 2.094, 2.083,
  2.060, 2.048, 2.044, 1.998, 1.949, 1.917, 1.881, 1.857, 1.846, 1.842,
  1.818, 1.791, 1.765, 1.711, 1.701, 1.680, 1.649, 1.641, 1.581, 1.554,
  1.521, 1.504, 1.458, 1.435, 1.405, 1.398, 1.382, 1.366, 1.344, 1.325
];
const lowerLabelText = [
  'Succinate dehydrogenase [ubiquinone] flavoprotein subunit, mitochondrial',
  'Heat shock protein 90, alpha (cytosolic), class A member 1, tandem duplicate 2'
];
const lowerLabelX = [0.175, 0.683];
const lowerLabelY = [1.064, 0.675];

// ---- drawing ----
const FONT = "'Liberation Sans', Arial, Helvetica, sans-serif";
const toXY = arr => arr.map(p => ({ x: p[0], y: p[1] }));

// dotted zero line and the two frame lines at the axis break
const brokenAxis = {
  id: 'brokenAxis',
  beforeDatasetsDraw(chart) {
    const { ctx, scales: { x, y, y2 } } = chart;
    const zx = x.getPixelForValue(0);
    ctx.save();
    ctx.strokeStyle = '#000';
    ctx.lineWidth = 2.2;
    ctx.setLineDash([2, 1.8]);
    ctx.beginPath();
    ctx.moveTo(zx, y.top);
    ctx.lineTo(zx, y2.bottom);
    ctx.stroke();
    ctx.setLineDash([]);
    ctx.strokeStyle = '#333';
    ctx.lineWidth = 1.5;
    ctx.beginPath();
    ctx.moveTo(x.left, y.bottom);
    ctx.lineTo(x.right, y.bottom);
    ctx.moveTo(x.left - 10, y2.top);
    ctx.lineTo(x.right, y2.top);
    ctx.stroke();
    ctx.restore();
  }
};

const proteinLabels = {
  id: 'proteinLabels',
  afterDatasetsDraw(chart) {
    const { ctx, scales: { x, y, y2 } } = chart;
    ctx.save();
    ctx.font = '20px ' + FONT;
    ctx.fillStyle = '#000';
    ctx.textAlign = 'left';
    ctx.textBaseline = 'middle';
    labelText.forEach((t, i) => {
      ctx.fillText(t, x.getPixelForValue(labelX[i]), y.getPixelForValue(labelY[i]));
    });
    lowerLabelText.forEach((t, i) => {
      ctx.fillText(t, x.getPixelForValue(lowerLabelX[i]), y2.getPixelForValue(lowerLabelY[i]));
    });
    ctx.restore();
  }
};

// axis titles with subscripts
function drawSubTitle(ctx, parts, cx, cy) {
  const main = '17.5px ' + FONT, sub = '12px ' + FONT;
  let w = 0;
  parts.forEach(p => { ctx.font = p[1] ? sub : main; w += ctx.measureText(p[0]).width; });
  let px = cx - w / 2;
  ctx.textAlign = 'left';
  ctx.textBaseline = 'middle';
  parts.forEach(p => {
    ctx.font = p[1] ? sub : main;
    ctx.fillText(p[0], px, cy + (p[1] ? 5 : 0));
    px += ctx.measureText(p[0]).width;
  });
}

const axisTitles = {
  id: 'axisTitles',
  afterDraw(chart) {
    const { ctx, scales: { x, y, y2 } } = chart;
    ctx.save();
    ctx.fillStyle = '#000';
    drawSubTitle(ctx, [['log', 0], ['2', 1], ['foldchange (CS_UABZ2/CS)', 0]], (x.left + x.right) / 2, x.bottom - 10);
    ctx.translate(26, (y.top + y2.bottom) / 2 + 18);
    ctx.rotate(-Math.PI / 2);
    drawSubTitle(ctx, [['-log', 0], ['10', 1], ['Pvalue', 0]], 0, 0);
    ctx.restore();
  }
};

const leftAxis = (extra) => Object.assign({
  type: 'linear',
  position: 'left',
  stack: 'pv',
  grid: { drawOnChartArea: false, tickLength: 15, tickWidth: 2, tickColor: '#000' },
  border: { display: true, width: 2, color: '#000' },
  ticks: { color: '#000', font: { family: FONT, size: 18 }, padding: 6, autoSkip: false, callback: v => v.toFixed(1) },
  afterFit: s => { s.width = 92; }
}, extra);

const upperAxis = leftAxis({ min: 1.3, max: 2.6, stackWeight: 1476.7, weight: 3 });
upperAxis.ticks = Object.assign({}, upperAxis.ticks, { stepSize: 0.1 });
const lowerAxis = leftAxis({ min: 0, max: 1.3, stackWeight: 66.3, weight: 1 });
lowerAxis.ticks = Object.assign({}, lowerAxis.ticks, { stepSize: 0.5, includeBounds: false });

new Chart(document.getElementById('volcano'), {
  type: 'scatter',
  data: {
    datasets: [
      { data: toXY(blackUpper), yAxisID: 'y', backgroundColor: '#000' },
      // the lower band is crowded, slightly larger marks keep its solid look
      { data: toXY(blackLower.concat(blackLowerCore)), yAxisID: 'y2', backgroundColor: '#000', pointRadius: 2.5 },
      { data: toXY(redPts), yAxisID: 'y', backgroundColor: '#ff2a00' },
      { data: toXY(bluePts), yAxisID: 'y', backgroundColor: '#1e90ff' },
      { data: toXY(greenPts), yAxisID: 'y', backgroundColor: '#00995c' }
    ]
  },
  options: {
    responsive: false,
    animation: false,
    devicePixelRatio: 1,
    layout: { padding: { top: 19, right: 191, bottom: 0, left: 0 } },
    plugins: { legend: { display: false }, tooltip: { enabled: false } },
    elements: { point: { radius: 2, hoverRadius: 2, borderWidth: 0 } },
    scales: {
      x: {
        type: 'linear',
        position: 'bottom',
        min: -1.5,
        max: 4,
        grid: { drawOnChartArea: false, tickLength: 15, tickWidth: 2, tickColor: '#000' },
        border: { display: true, width: 2, color: '#000' },
        ticks: { stepSize: 1, includeBounds: false, color: '#000', font: { family: FONT, size: 18 }, padding: 4,
                 callback: v => String(v) },
        afterFit: s => { s.height = 64; }
      },
      y: upperAxis,
      gap: {
        type: 'linear',
        position: 'left',
        stack: 'pv',
        stackWeight: 15,
        weight: 2,
        grid: { display: false },
        border: { display: false },
        ticks: { display: false },
        afterFit: s => { s.width = 92; }
      },
      y2: lowerAxis
    }
  },
  plugins: [brokenAxis, proteinLabels, axisTitles]
});
</script>
</body>
</html>
